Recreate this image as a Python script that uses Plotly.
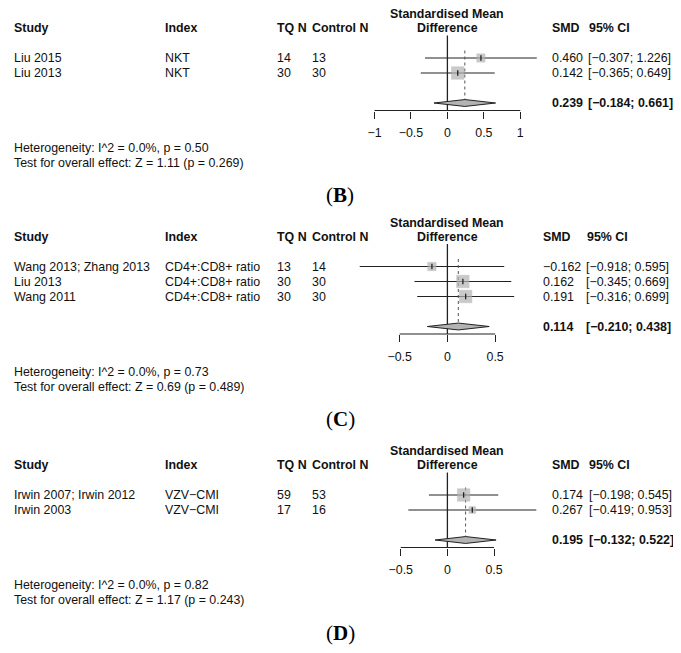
import plotly.graph_objects as go

W, H = 681, 653          # browser window
OFF = 8                  # default body margin of the written page
FW, FH = W - 2 * OFF, H - 2 * OFF
ROW = 15.0
FONT = "Liberation Sans"
FS = 12.4
TXT = "#111111"
LINE = "#222222"
BOX = "#b3b3b3"

# ---------------- data ----------------
# Panel B
b_study = ["Liu 2015", "Liu 2013"]
b_index = ["NKT", "NKT"]
b_tq_n = [14, 30]
b_ctrl_n = [13, 30]
b_smd = [0.460, 0.142]
b_lower = [-0.307, -0.365]
b_upper = [1.226, 0.649]
b_pooled = [0.239, -0.184, 0.661]
b_het = "Heterogeneity: I^2 = 0.0%, p = 0.50"
b_test = "Test for overall effect: Z = 1.11 (p = 0.269)"
b_ticks = [-1, -0.5, 0, 0.5, 1]
b_ticklabels = ["\u22121", "\u22120.5", "0", "0.5", "1"]

# Panel C
c_study = ["Wang 2013; Zhang 2013", "Liu 2013", "Wang 2011"]
c_index = ["CD4+:CD8+ ratio", "CD4+:CD8+ ratio", "CD4+:CD8+ ratio"]
c_tq_n = [13, 30, 30]
c_ctrl_n = [14, 30, 30]
c_smd = [-0.162, 0.162, 0.191]
c_lower = [-0.918, -0.345, -0.316]
c_upper = [0.595, 0.669, 0.699]
c_pooled = [0.114, -0.210, 0.438]
c_het = "Heterogeneity: I^2 = 0.0%, p = 0.73"
c_test = "Test for overall effect: Z = 0.69 (p = 0.489)"
c_ticks = [-0.5, 0, 0.5]
c_ticklabels = ["\u22120.5", "0", "0.5"]

# Panel D
d_study = ["Irwin 2007; Irwin 2012", "Irwin 2003"]
d_index = ["VZV\u2212CMI", "VZV\u2212CMI"]
d_tq_n = [59, 17]
d_ctrl_n = [53, 16]
d_smd = [0.174, 0.267]
d_lower = [-0.198, -0.419]
d_upper = [0.545, 0.953]
d_pooled = [0.195, -0.132, 0.522]
d_het = "Heterogeneity: I^2 = 0.0%, p = 0.82"
d_test = "Test for overall effect: Z = 1.17 (p = 0.243)"
d_ticks = [-0.5, 0, 0.5]
d_ticklabels = ["\u22120.5", "0", "0.5"]

panels = [
    dict(label="B", study=b_study, index=b_index, tq=b_tq_n, ctrl=b_ctrl_n,
         smd=b_smd, lo=b_lower, hi=b_upper, pooled=b_pooled, het=b_het, test=b_test,
         ticks=b_ticks, ticklabels=b_ticklabels,
         header_px=28.0, scale=72.9, smd_x=550, ci_x=586, ci_head_x=587, label_y=195),
    dict(label="C", study=c_study, index=c_index, tq=c_tq_n, ctrl=c_ctrl_n,
         smd=c_smd, lo=c_lower, hi=c_upper, pooled=c_pooled, het=c_het, test=c_test,
         ticks=c_ticks, ticklabels=c_ticklabels,
         header_px=236.5, scale=95.5, smd_x=541, ci_x=584, ci_head_x=585, label_y=419),
    dict(label="D", study=d_study, index=d_index, tq=d_tq_n, ctrl=d_ctrl_n,
         smd=d_smd, lo=d_lower, hi=d_upper, pooled=d_pooled, het=d_het, test=d_test,
         ticks=d_ticks, ticklabels=d_ticklabels,
         header_px=465.0, scale=93.3, smd_x=550, ci_x=587, ci_head_x=587, label_y=633),
]

X0_PX = 447.4           # page pixel of SMD = 0
DOM_L, DOM_R = 345.0, 548.0
MAX_BOX = 12.5          # px side of the heaviest box


def px_x(px):
    return (px - OFF) / FW


def px_y(py):
    return min(1.0, max(0.0, 1 - (py - OFF) / FH))


def fmt(v):
    return f"{v:.3f}".replace("-", "\u2212")


def ci_txt(lo, hi):
    return f"[{fmt(lo)}; {fmt(hi)}]"


fig = go.Figure()
annotations = []
layout = {}

for k, p in enumerate(panels, start=1):
    xa = "x" if k == 1 else f"x{k}"
    ya = "y" if k == 1 else f"y{k}"
    n = len(p["study"])
    rows = [i + 2 for i in range(n)]
    sum_row = n + 3
    axis_row = n + 3.5
    top_row, bot_row = -1.3, n + 7.5
    hp = p["header_px"]
    top_px = hp + top_row * ROW
    bot_px = hp + bot_row * ROW
    axis_px = hp + axis_row * ROW
    s = p["scale"]

    layout["xaxis" if k == 1 else f"xaxis{k}"] = dict(
        domain=[px_x(DOM_L), px_x(DOM_R)],
        range=[(DOM_L - X0_PX) / s, (DOM_R - X0_PX) / s],
        anchor="free", position=px_y(axis_px),
        tickvals=p["ticks"], ticktext=p["ticklabels"],
        ticks="outside", ticklen=7, tickwidth=1.2, tickcolor=LINE,
        showgrid=False, zeroline=False, showline=False,
        tickfont=dict(family=FONT, size=FS, color=TXT),
        ticklabelstandoff=4,
    )
    layout["yaxis" if k == 1 else f"yaxis{k}"] = dict(
        domain=[px_y(bot_px), px_y(top_px)],
        range=[bot_row, top_row], visible=False,
    )

    # confidence interval lines
    cx, cy = [], []
    for lo, hi, r in zip(p["lo"], p["hi"], rows):
        cx += [lo, hi, None]
        cy += [r, r, None]
    fig.add_trace(go.Scatter(x=cx, y=cy, mode="lines", xaxis=xa, yaxis=ya,
                             line=dict(color=LINE, width=1.2), hoverinfo="skip"))
    # line of no effect
    fig.add_trace(go.Scatter(x=[0, 0], y=[0.5, axis_row], mode="lines", xaxis=xa, yaxis=ya,
                             line=dict(color=LINE, width=1.3), hoverinfo="skip"))
    # dotted line at pooled estimate
    fig.add_trace(go.Scatter(x=[p["pooled"][0]] * 2, y=[1.5, sum_row], mode="lines",
                             xaxis=xa, yaxis=ya,
                             line=dict(color="#555555", width=1, dash="dot"), hoverinfo="skip"))
    # boxes (side proportional to 1/SE)
    se = [(hi - lo) / 3.92 for lo, hi in zip(p["lo"], p["hi"])]
    sizes = [MAX_BOX * min(se) / v for v in se]
    fig.add_trace(go.Scatter(x=p["smd"], y=rows, mode="markers", xaxis=xa, yaxis=ya,
                             marker=dict(symbol="square", size=sizes, color=BOX,
                                         line=dict(color="#a8a8a8", width=0.5)),
                             hoverinfo="skip"))
    fig.add_trace(go.Scatter(x=p["smd"], y=rows, mode="markers", xaxis=xa, yaxis=ya,
                             marker=dict(symbol="line-ns-open", size=4, color=LINE,
                                         line=dict(color=LINE, width=1.3)),
                             hoverinfo="skip"))
    # pooled diamond
    est, plo, phi = p["pooled"]
    hh = 0.23
    fig.add_trace(go.Scatter(x=[plo, est, phi, est, plo],
                             y=[sum_row, sum_row - hh, sum_row, sum_row + hh, sum_row],
                             mode="lines", fill="toself", fillcolor=BOX,
                             xaxis=xa, yaxis=ya, line=dict(color=LINE, width=1),
                             hoverinfo="skip"))
    # axis line
    fig.add_trace(go.Scatter(x=[p["ticks"][0], p["ticks"][-1]], y=[axis_row, axis_row],
                             mode="lines", xaxis=xa, yaxis=ya,
                             line=dict(color=LINE, width=1.2), hoverinfo="skip"))

    def ann(text, xpx, row, anchor="left", bold=False):
        annotations.append(dict(
            text=f"<b>{text}</b>" if bold else text,
            x=px_x(xpx), xref="paper", y=row, yref=ya,
            xanchor=anchor, yanchor="middle", showarrow=False,
            font=dict(family=FONT, size=FS, color=TXT)))

    # headers
    ann("Study", 12, 0, bold=True)
    ann("Index", 163, 0, bold=True)
    ann("TQ N", 275, 0, bold=True)
    ann("Control N", 310, 0, bold=True)
    ann("Standardised Mean", X0_PX, -0.93, anchor="center", bold=True)
    ann("Difference", X0_PX, 0, anchor="center", bold=True)
    ann("SMD", p["smd_x"], 0, bold=True)
    ann("95% CI", p["ci_head_x"], 0, bold=True)

    # study rows
    for i, r in enumerate(rows):
        ann(p["study"][i], 12, r)
        ann(p["index"][i], 163, r)
        ann(str(p["tq"][i]), 275, r)
        ann(str(p["ctrl"][i]), 310, r)
        ann(fmt(p["smd"][i]), p["smd_x"], r)
        ann(ci_txt(p["lo"][i], p["hi"][i]), p["ci_x"], r)

    # pooled row
    ann(fmt(est), p["smd_x"], sum_row, bold=True)
    ann(ci_txt(plo, phi), p["ci_x"], sum_row, bold=True)

    # footer
    ann(p["het"], 12, n + 6)
    ann(p["test"], 12, n + 7)

    # panel label
    annotations.append(dict(
        text=f"(<b>{p['label']}</b>)", x=px_x(340), xref="paper",
        y=px_y(p["label_y"]), yref="paper", xanchor="center", yanchor="middle",
        showarrow=False, font=dict(family="Liberation Serif", size=21, color="#000000")))

fig.update_layout(
    width=FW, height=FH,
    margin=dict(l=0, r=0, t=0, b=0),
    paper_bgcolor="white", plot_bgcolor="rgba(0,0,0,0)",
    showlegend=False,
    annotations=annotations,
    **layout,
)

fig.write_html("out.html")
